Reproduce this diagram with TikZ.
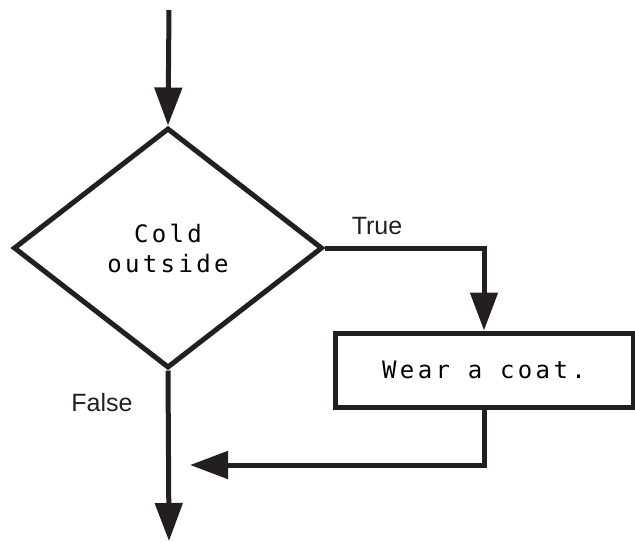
\documentclass[tikz,border=0pt]{standalone}
\usepackage{fontspec}
\setmainfont{Liberation Sans}
\newfontfamily\codefont[LetterSpace=14]{DejaVu Sans Mono}
\usepackage{xcolor}
\usetikzlibrary{arrows.meta}
\usetikzlibrary{shapes.geometric}
\definecolor{ink}{RGB}{35,31,32}

\tikzset{
  flow/.style={line width=5pt, color=ink, -{Triangle[length=38pt,width=27pt]}},
  decision/.style={diamond, draw=ink, line width=5pt, inner sep=0pt,
    minimum width=309pt, minimum height=240pt, align=center,
    font=\fontsize{24}{30}\codefont},
  process/.style={rectangle, draw=ink, line width=5pt, inner sep=0pt,
    minimum width=298pt, minimum height=74pt,
    font=\fontsize{24}{30}\codefont},
  lbl/.style={color=ink, font=\fontsize{25}{30}\selectfont, inner sep=0pt}
}

\begin{document}
\begin{tikzpicture}[x=1pt, y=-1pt]
\useasboundingbox (0,0) rectangle (635,542);

%nodes
\coordinate (start) at (169,10);
\node[decision] (cold) at (168,248) {Cold\\outside};
\node[process] (coat) at (484,370) {Wear a coat.};
\coordinate (join) at (190,465);
\coordinate (stop) at (169,541);

%connectors
\draw[flow] (start) -- (cold.north);
\draw[flow] (cold.east) -| (coat.north);
\draw[flow] (coat.south) |- (join);
\draw[flow] (cold.south) -- (stop);

%labels
\node[lbl] (true) at (377,226) {True};
\node[lbl] (false) at (102,403) {False};
\end{tikzpicture}
\end{document}
